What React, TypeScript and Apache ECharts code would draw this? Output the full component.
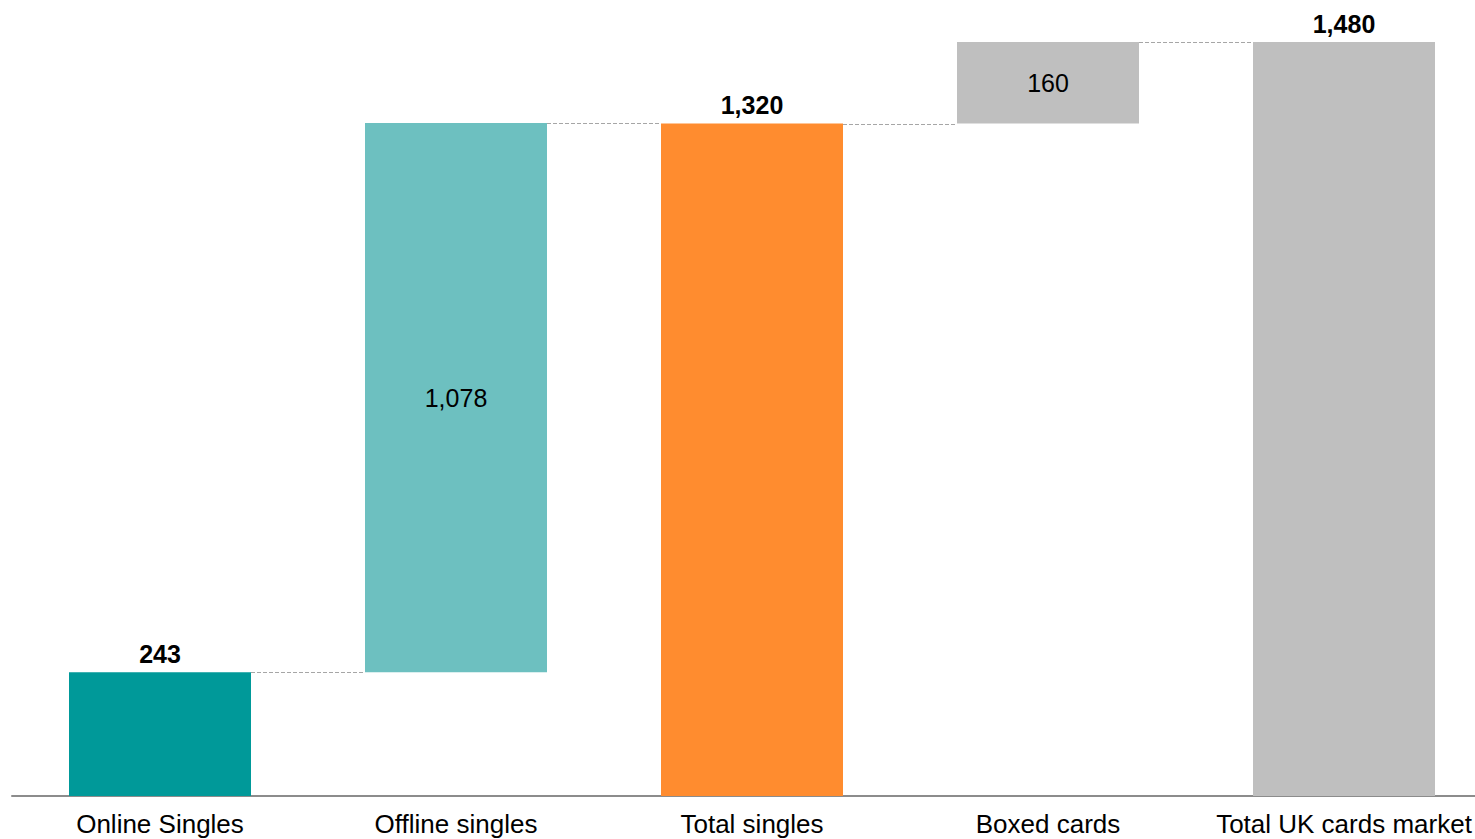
import React, { useEffect, useRef } from "react";
import * as echarts from "echarts";

const categories = ["Online Singles", "Offline singles", "Total singles", "Boxed cards", "Total UK cards market"];
const values = [243, 1078, 1320, 160, 1480];
const isTotal = [true, false, true, false, true];
const baseValues = [0, 243, 0, 1320, 0];
const barColors = ["#009999", "#6DC0C0", "#FF8C2F", "#BFBFBF", "#BFBFBF"];
// connector from category i to i+1 at level
const connectorLevels = [243, 1321, 1320, 1480];

const BAR_W = 182;

export default function App() {
  const ref = useRef<HTMLDivElement>(null);
  useEffect(() => {
    document.body.style.margin = "0";
    document.body.style.overflow = "hidden";
    document.documentElement.style.overflow = "hidden";
    const chart = echarts.init(ref.current!, undefined, { renderer: "svg" });
    const font = "Liberation Sans, Arial, sans-serif";
    chart.setOption({
      animation: false,
      grid: { left: 12, right: 0, top: 42, bottom: 43, containLabel: false },
      xAxis: {
        type: "category",
        data: categories,
        axisTick: { show: false },
        axisLine: { lineStyle: { color: "#8c8c8c", width: 2 } },
        axisLabel: { interval: 0, fontSize: 26, color: "#000", fontFamily: font, margin: 15 },
      },
      yAxis: { type: "value", min: 0, max: 1480, show: false, splitLine: { show: false } },
      series: [
        {
          type: "bar",
          stack: "w",
          barWidth: BAR_W,
          itemStyle: { color: "transparent" },
          data: baseValues,
          silent: true,
        },
        {
          type: "bar",
          stack: "w",
          barWidth: BAR_W,
          data: values.map((v, i) => ({
            value: v,
            itemStyle: { color: barColors[i] },
            label: {
              show: true,
              position: isTotal[i] ? "top" : "inside",
              distance: 6,
              fontSize: 25,
              fontWeight: isTotal[i] ? "bold" : "normal",
              color: "#000",
              fontFamily: font,
              formatter: () => v.toLocaleString("en-US"),
            },
          })),
        },
        {
          type: "custom",
          silent: true,
          encode: { x: 0, y: 1 },
          data: connectorLevels.map((lv, i) => [i, lv]),
          renderItem: (params: any, api: any) => {
            const i = api.value(0);
            const lv = api.value(1);
            const c = api.coord([i, lv]);
            const band = api.size([1, 0])[0];
            const y = Math.round(c[1]) + 0.5;
            return {
              type: "line",
              shape: { x1: c[0] + BAR_W / 2, y1: y, x2: c[0] + band - BAR_W / 2, y2: y },
              style: { stroke: "#a6a6a6", lineWidth: 1, lineDash: [4, 2] },
            };
          },
        },
      ],
    });
    return () => chart.dispose();
  }, []);
  return <div ref={ref} style={{ width: 1492, height: 839 }} />;
}
